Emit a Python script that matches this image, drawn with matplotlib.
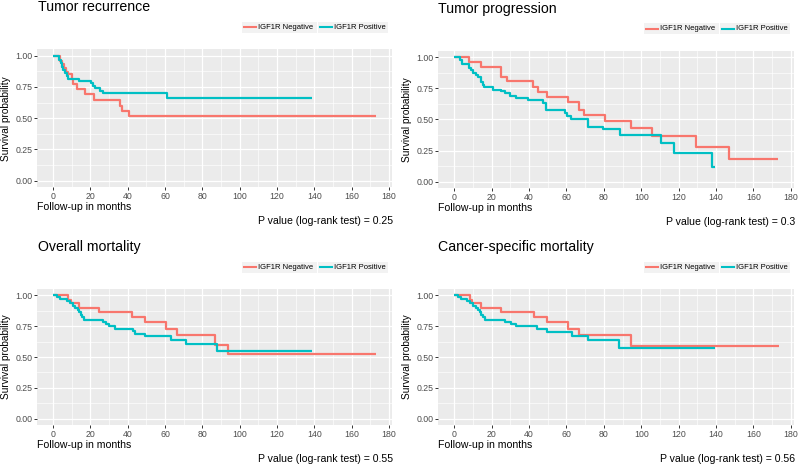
import matplotlib.pyplot as plt
from matplotlib.patches import Rectangle
from matplotlib.lines import Line2D

plt.rcParams['font.family'] = ['Liberation Sans', 'DejaVu Sans']

RED = '#F8766D'
CYAN = '#00BFC4'

titles = ['Tumor recurrence', 'Tumor progression', 'Overall mortality', 'Cancer-specific mortality']
p_values = ['0.25', '0.3', '0.55', '0.56']
group_labels = ['IGF1R Negative', 'IGF1R Positive']

# tumor recurrence
rec_neg_t = [0, 3.6, 5.0, 5.9, 6.8, 7.7, 10.1, 10.8, 12.7, 17.2, 22.1, 35.8, 36.9, 40.8]
rec_neg_s = [1.0, 0.96, 0.93, 0.90, 0.87, 0.85, 0.81, 0.77, 0.73, 0.69, 0.645, 0.60, 0.56, 0.52]
rec_neg_end = 173
rec_pos_t = [0, 2.9, 4.1, 5.0, 5.5, 6.2, 7.3, 8.0, 13.9, 20.1, 21.3, 22.4, 24.9, 26.9, 61]
rec_pos_s = [1.0, 0.965, 0.94, 0.91, 0.885, 0.86, 0.84, 0.815, 0.80, 0.78, 0.76, 0.74, 0.72, 0.705, 0.66]
rec_pos_end = 139

# tumor progression
prog_neg_t = [0, 8, 14.3, 25, 28, 42.3, 45, 49.5, 60.7, 66.8, 69.3, 80.4, 94.6, 105.9, 129.5, 147]
prog_neg_s = [1.0, 0.96, 0.92, 0.84, 0.81, 0.76, 0.72, 0.68, 0.64, 0.58, 0.54, 0.49, 0.43, 0.37, 0.28, 0.18]
prog_neg_end = 173
prog_pos_t = [0, 2.9, 4.1, 7.7, 8.8, 10.0, 11.4, 12.7, 14.4, 15.3, 16.2, 20.7, 25.1, 27.3, 30.1,
              33.1, 39.4, 47.4, 49.2, 59.0, 60.2, 62.5, 71.5, 79.5, 88.4, 110.7, 117.7, 138]
prog_pos_s = [1.0, 0.98, 0.945, 0.915, 0.895, 0.875, 0.86, 0.845, 0.80, 0.78, 0.76, 0.74, 0.725, 0.71, 0.69,
              0.67, 0.655, 0.63, 0.58, 0.555, 0.525, 0.50, 0.44, 0.42, 0.375, 0.31, 0.23, 0.12]
prog_pos_end = 139.6

# overall mortality
om_neg_t = [0, 7.7, 9.5, 14.0, 24.7, 42.2, 49.2, 60.5, 66.2, 87.0, 94.0]
om_neg_s = [1.0, 0.965, 0.935, 0.90, 0.865, 0.82, 0.78, 0.73, 0.68, 0.60, 0.525]
om_neg_end = 173
om_pos_t = [0, 2.0, 3.6, 7.2, 9.0, 10.4, 11.8, 13.1, 14.0, 14.7, 15.4, 16.5, 26.8, 28.3, 29.7,
            32.9, 42.9, 44.0, 49.4, 63.3, 71.2, 88.0]
om_pos_s = [1.0, 0.985, 0.97, 0.955, 0.935, 0.915, 0.90, 0.88, 0.86, 0.84, 0.82, 0.80, 0.785, 0.765, 0.75,
            0.73, 0.71, 0.69, 0.67, 0.64, 0.605, 0.545]
om_pos_end = 139

# cancer-specific mortality
csm_neg_t = [0, 8.2, 9.5, 14.4, 25.1, 42.6, 49.5, 60.8, 66.5, 94.5]
csm_neg_s = [1.0, 0.965, 0.935, 0.90, 0.865, 0.82, 0.78, 0.73, 0.675, 0.59]
csm_neg_end = 173.8
csm_pos_t = [0, 2.1, 3.4, 6.8, 8.5, 10.0, 11.5, 12.8, 13.9, 14.6, 15.4, 16.5, 27.3, 30.5, 33.3,
             44.4, 49.5, 62.9, 71.5, 88.2]
csm_pos_s = [1.0, 0.985, 0.97, 0.955, 0.935, 0.915, 0.90, 0.88, 0.86, 0.84, 0.82, 0.80, 0.785, 0.765, 0.75,
             0.73, 0.705, 0.668, 0.635, 0.57]
csm_pos_end = 139.6

curves = [
    ((rec_neg_t, rec_neg_s, rec_neg_end), (rec_pos_t, rec_pos_s, rec_pos_end)),
    ((prog_neg_t, prog_neg_s, prog_neg_end), (prog_pos_t, prog_pos_s, prog_pos_end)),
    ((om_neg_t, om_neg_s, om_neg_end), (om_pos_t, om_pos_s, om_pos_end)),
    ((csm_neg_t, csm_neg_s, csm_neg_end), (csm_pos_t, csm_pos_s, csm_pos_end)),
]

W, H = 800, 465
# panel boxes in pixels: left, top, right, bottom
boxes = [(37, 49.5, 392, 187), (438, 51, 794, 188), (37, 289, 392, 425), (438, 289, 794, 425)]


def fx(px):
    return px / W


def fy(py):
    return 1 - py / H


fig = plt.figure(figsize=(8, 4.65), dpi=100)

for i, (l, t, r, b) in enumerate(boxes):
    ax = fig.add_axes([fx(l), fy(b), fx(r) - fx(l), (b - t) / H])
    ax.set_facecolor('#EBEBEB')
    for sp in ax.spines.values():
        sp.set_visible(False)

    for (tt, ss, end), col in zip(curves[i], [RED, CYAN]):
        ax.step(list(tt) + [end], list(ss) + [ss[-1]], where='post', color=col, lw=1.6,
                solid_capstyle='butt', zorder=3)

    ax.set_xlim(-8.65, 181.65)
    ax.set_ylim(-0.05, 1.05)
    ax.set_xticks(range(0, 181, 20))
    ax.set_xticks(range(10, 180, 20), minor=True)
    ax.set_yticks([0, 0.25, 0.5, 0.75, 1.0])
    ax.set_yticklabels(['0.00', '0.25', '0.50', '0.75', '1.00'])
    ax.set_yticks([0.125, 0.375, 0.625, 0.875], minor=True)
    ax.grid(which='major', color='white', lw=0.9)
    ax.grid(which='minor', color='white', lw=0.45)
    ax.set_axisbelow(True)
    ax.tick_params(which='major', length=2, width=0.7, color='#333333', labelcolor='#4D4D4D',
                   labelsize=6.3, pad=1.5)
    ax.tick_params(which='minor', length=0)

    # title, axis labels and p value
    fig.text(fx(l + 0.5), fy(t - 38.2), titles[i], fontsize=10.2, ha='left', va='baseline')
    fig.text(fx(l), fy(b + 19.5), 'Follow-up in months', fontsize=7.6, ha='left', va='center')
    fig.text(fx(r + 1), fy(b + 34), 'P value (log-rank test) = ' + p_values[i], fontsize=7.6,
             ha='right', va='center')
    fig.text(fx(l - 31), fy((t + b) / 2), 'Survival probability', fontsize=7.3, rotation=90,
             ha='center', va='center')

    # legend above the panel
    ly = t - 22
    entries = [(r - 150, r - 75), (r - 74, r - 4)]
    for (x0, x1), col, lab in zip(entries, [RED, CYAN], group_labels):
        fig.add_artist(Rectangle((fx(x0), fy(ly + 5.5)), fx(x1) - fx(x0), 11 / H,
                                 facecolor='#F2F2F2', edgecolor='none'))
        fig.add_artist(Line2D([fx(x0 + 2), fx(x0 + 14)], [fy(ly), fy(ly)], color=col, lw=1.5))
        fig.text(fx(x0 + 16.5), fy(ly), lab, fontsize=5.5, ha='left', va='center', color='black')

fig.savefig('out.png', dpi=100)
